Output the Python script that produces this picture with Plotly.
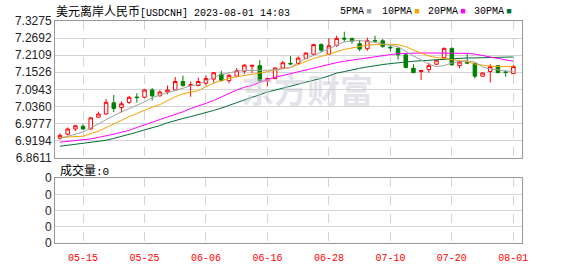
import pandas as pd
import plotly.graph_objects as go

# ---------------- data ----------------
dates = [d.strftime("%m-%d") for d in pd.bdate_range("2023-05-10", "2023-08-01")]

opens = [6.927, 6.941, 6.959, 6.968, 6.959, 6.999, 7.010, 7.048, 7.032, 7.049,
         7.068, 7.067, 7.092, 7.072, 7.085, 7.092, 7.121, 7.107, 7.107, 7.115,
         7.129, 7.146, 7.124, 7.139, 7.156, 7.173, 7.175, 7.123, 7.131, 7.167,
         7.183, 7.182, 7.200, 7.214, 7.247, 7.214, 7.244, 7.269, 7.268, 7.250,
         7.233, 7.261, 7.260, 7.238, 7.234, 7.212, 7.166, 7.155, 7.162, 7.180,
         7.202, 7.234, 7.175, 7.186, 7.183, 7.139, 7.155, 7.175, 7.154, 7.148]
highs = [6.944, 6.964, 6.972, 6.975, 6.999, 7.018, 7.061, 7.075, 7.053, 7.072,
         7.081, 7.096, 7.099, 7.091, 7.107, 7.136, 7.141, 7.121, 7.134, 7.142,
         7.153, 7.158, 7.147, 7.167, 7.180, 7.178, 7.194, 7.134, 7.169, 7.191,
         7.208, 7.207, 7.221, 7.250, 7.251, 7.269, 7.277, 7.291, 7.271, 7.263,
         7.271, 7.277, 7.266, 7.244, 7.237, 7.218, 7.180, 7.159, 7.185, 7.196,
         7.237, 7.237, 7.190, 7.215, 7.185, 7.152, 7.180, 7.177, 7.160, 7.177]
lows = [6.922, 6.937, 6.952, 6.956, 6.957, 6.997, 7.008, 7.016, 7.015, 7.045,
        7.049, 7.066, 7.056, 7.070, 7.078, 7.089, 7.104, 7.069, 7.106, 7.107,
        7.115, 7.121, 7.115, 7.137, 7.147, 7.150, 7.121, 7.104, 7.129, 7.165,
        7.177, 7.178, 7.197, 7.211, 7.221, 7.212, 7.239, 7.255, 7.250, 7.224,
        7.226, 7.255, 7.236, 7.223, 7.196, 7.166, 7.151, 7.126, 7.151, 7.177,
        7.198, 7.175, 7.166, 7.180, 7.131, 7.138, 7.118, 7.151, 7.137, 7.147]
closes = [6.937, 6.959, 6.970, 6.959, 6.997, 7.010, 7.050, 7.029, 7.045, 7.067,
          7.066, 7.092, 7.072, 7.085, 7.092, 7.121, 7.107, 7.110, 7.121, 7.131,
          7.151, 7.124, 7.142, 7.158, 7.177, 7.176, 7.123, 7.131, 7.167, 7.185,
          7.181, 7.201, 7.218, 7.247, 7.228, 7.243, 7.268, 7.266, 7.259, 7.232,
          7.260, 7.259, 7.241, 7.236, 7.212, 7.169, 7.151, 7.158, 7.175, 7.194,
          7.234, 7.178, 7.188, 7.184, 7.139, 7.150, 7.172, 7.151, 7.152, 7.172]

ma5 = [6.9267, 6.9332, 6.9413, 6.9484, 6.9623, 6.9768, 6.9914, 7.0043, 7.0172, 7.0285,
       7.0399, 7.0512, 7.0657, 7.0754, 7.0835, 7.0899, 7.0980, 7.1061, 7.1110, 7.1239,
       7.1352, 7.1449, 7.1514, 7.1562, 7.1585, 7.1585, 7.1578, 7.1594, 7.1611, 7.1643,
       7.1691, 7.1853, 7.1998, 7.2095, 7.2208, 7.2322, 7.2451, 7.2564, 7.2596, 7.2606,
       7.2580, 7.2548, 7.2483, 7.2444, 7.2402, 7.2241, 7.2079, 7.1950, 7.1804, 7.1714,
       7.1756, 7.1837, 7.1901, 7.1918, 7.1869, 7.1707, 7.1636, 7.1611, 7.1562, 7.1562]
ma10 = [6.9300, 6.9316, 6.9332, 6.9342, 6.9429, 6.9510, 6.9639, 6.9752, 6.9881, 7.0011,
        7.0124, 7.0237, 7.0334, 7.0421, 7.0560, 7.0689, 7.0786, 7.0851, 7.0899, 7.1029,
        7.1158, 7.1239, 7.1320, 7.1368, 7.1410, 7.1449, 7.1497, 7.1546, 7.1604, 7.1643,
        7.1691, 7.1788, 7.1901, 7.1998, 7.2063, 7.2144, 7.2225, 7.2305, 7.2354, 7.2402,
        7.2451, 7.2467, 7.2483, 7.2483, 7.2467, 7.2402, 7.2283, 7.2176, 7.2079, 7.2031,
        7.1998, 7.1966, 7.1927, 7.1885, 7.1804, 7.1756, 7.1733, 7.1724, 7.1724, 7.1724]
ma20 = [6.9138, 6.9161, 6.9187, 6.9212, 6.9251, 6.9300, 6.9348, 6.9413, 6.9477, 6.9542,
        6.9639, 6.9720, 6.9817, 6.9914, 6.9995, 7.0091, 7.0172, 7.0285, 7.0366, 7.0463,
        7.0560, 7.0689, 7.0803, 7.0916, 7.1013, 7.1077, 7.1174, 7.1287, 7.1352, 7.1417,
        7.1475, 7.1546, 7.1611, 7.1675, 7.1730, 7.1788, 7.1853, 7.1901, 7.1943, 7.1982,
        7.2024, 7.2063, 7.2095, 7.2128, 7.2160, 7.2176, 7.2183, 7.2183, 7.2183, 7.2183,
        7.2183, 7.2183, 7.2176, 7.2170, 7.2144, 7.2095, 7.2047, 7.1998, 7.1950, 7.1901]
ma30 = [6.8999, 6.9035, 6.9073, 6.9106, 6.9138, 6.9170, 6.9203, 6.9267, 6.9332, 6.9397,
        6.9477, 6.9558, 6.9623, 6.9704, 6.9801, 6.9881, 6.9946, 7.0011, 7.0075, 7.0140,
        7.0221, 7.0302, 7.0399, 7.0495, 7.0592, 7.0673, 7.0754, 7.0851, 7.0916, 7.0980,
        7.1045, 7.1110, 7.1174, 7.1239, 7.1320, 7.1400, 7.1497, 7.1546, 7.1611, 7.1659,
        7.1707, 7.1756, 7.1788, 7.1821, 7.1853, 7.1885, 7.1901, 7.1918, 7.1934, 7.1950,
        7.1982, 7.1998, 7.2015, 7.2015, 7.2015, 7.2024, 7.2031, 7.2037, 7.2041, 7.2047]

volume = [0] * len(dates)

price_ticks = [6.8611, 6.9194, 6.9777, 7.0360, 7.0943, 7.1526, 7.2109, 7.2692, 7.3275]
price_ticktext = ["6.8611", "6.9194", "6.9777", "7.0360", "7.0943", "7.1526", "7.2109", "7.2692", "7.3275"]
date_ticks = ["05-15", "05-25", "06-06", "06-16", "06-28", "07-10", "07-20", "08-01"]
vol_ticks = [0, 1, 2, 3, 4]
vol_ticktext = ["0", "0", "0", "0", "0"]

title_cn = "美元离岸人民币"
title_code = "[USDCNH] 2023-08-01 14:03"
ma_names = ["5PMA", "10PMA", "20PMA", "30PMA"]
ma_colors = ["#a0a0a0", "#f5a300", "#ff00ff", "#006f36"]

# ---------------- figure ----------------
xi = list(range(len(dates)))
tick_idx = [dates.index(d) for d in date_ticks]

fig = go.Figure()
for vals, name, col in zip([ma30, ma20, ma10, ma5], ma_names[::-1], ma_colors[::-1]):
    fig.add_trace(go.Scatter(x=xi, y=vals, mode="lines", name=name,
                             line=dict(color=col, width=1), hoverinfo="skip",
                             xaxis="x", yaxis="y"))

fig.add_trace(go.Candlestick(
    x=xi, open=opens, high=highs, low=lows, close=closes,
    increasing=dict(line=dict(color="#ff0000", width=1), fillcolor="#ffffff"),
    decreasing=dict(line=dict(color="#008000", width=1), fillcolor="#008000"),
    whiskerwidth=0, xaxis="x", yaxis="y", name="K"))

fig.add_trace(go.Bar(x=xi, y=volume, xaxis="x2", yaxis="y2", marker_color="#ff0000"))

W, H = 578, 276
L, R, T, B = 55, 56, 21, 21
ph = H - T - B
xr = [-0.65, 60.13]

grid_c = "#d4d4d4"
axis_common = dict(showline=True, linecolor="#999999", linewidth=1, mirror=True,
                   zeroline=False, fixedrange=True)

fig.update_layout(
    width=W, height=H,
    margin=dict(l=L, r=R, t=T, b=B, pad=0),
    paper_bgcolor="white", plot_bgcolor="white",
    showlegend=False, boxgap=0.35,
    xaxis=dict(range=xr, domain=[0, 1], tickvals=tick_idx, showticklabels=False, ticks="",
               showgrid=True, gridcolor=grid_c, griddash="dash", gridwidth=1,
               rangeslider=dict(visible=False), anchor="y", **axis_common),
    yaxis=dict(range=[price_ticks[0], price_ticks[-1]], domain=[(H - B - 165) / ph, 1],
               tickvals=price_ticks, ticktext=price_ticktext, showgrid=True, ticks="",
               gridcolor=grid_c, gridwidth=1, anchor="x",
               tickfont=dict(family="Liberation Sans, Arial", size=12, color="#222222"),
               **axis_common),
    xaxis2=dict(range=xr, domain=[0, 1], tickvals=tick_idx, ticktext=date_ticks,
                showgrid=True, gridcolor=grid_c, griddash="dash", gridwidth=1,
                ticks="outside", ticklen=5, tickcolor="rgba(0,0,0,0)",
                tickfont=dict(family="Liberation Mono", size=10, color="#ff0000"),
                anchor="y2", **axis_common),
    yaxis2=dict(range=[0, 4], domain=[0, (H - B - 186.7) / ph], tickvals=vol_ticks,
                ticktext=vol_ticktext, showgrid=True, gridcolor=grid_c, anchor="x2", ticks="",
                tickfont=dict(family="Liberation Sans, Arial", size=12, color="#222222"),
                **axis_common),
)

# watermark
fig.add_annotation(xref="paper", yref="paper", x=(307 - L) / (W - L - R),
                   y=(H - B - 93) / ph, text="<b>东方财富</b>", showarrow=False,
                   font=dict(family="Noto Sans CJK SC", size=33, color="rgba(200,200,212,0.5)"),
                   xanchor="center", yanchor="middle")

# title
fig.add_annotation(xref="paper", yref="paper", x=0, y=(H - B - 9.5) / ph,
                   text=(f"<span style='font-family:Noto Sans CJK SC;font-size:12px'>{title_cn}</span>"
                         f"<span style='font-family:Liberation Mono;font-size:10px'>{title_code}</span>"),
                   showarrow=False, xanchor="left", yanchor="middle", xshift=-1,
                   font=dict(color="#000000", size=12))

# MA legend
leg_x = [338, 380, 425.7, 471.7]
for name, col, lx in zip(ma_names, ma_colors, leg_x):
    fig.add_annotation(xref="paper", yref="paper", x=(lx - L) / (W - L - R),
                       y=(H - B - 9.5) / ph,
                       text=(f"<span style='font-family:Liberation Mono;font-size:10px'>{name}</span>"
                             f"<span style='color:{col};font-size:9px'> ■</span>"),
                       showarrow=False, xanchor="left", yanchor="middle",
                       font=dict(color="#000000", size=10))

# volume label
fig.add_annotation(xref="paper", yref="paper", x=(57.7 - L) / (W - L - R),
                   y=(H - B - 177.3) / ph,
                   text=("<span style='font-family:Noto Sans CJK SC;font-size:12px'>成交量</span>"
                         "<span style='font-family:Liberation Mono;font-size:11px'>:0</span>"),
                   showarrow=False, xanchor="left", yanchor="middle",
                   font=dict(color="#000000", size=12))

fig.write_html("out.html")
